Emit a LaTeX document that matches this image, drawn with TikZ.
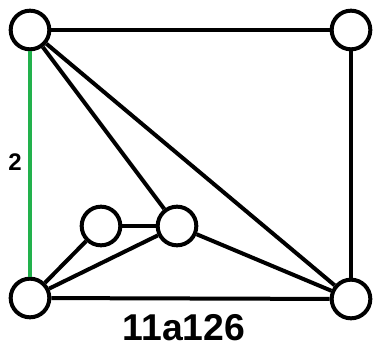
\documentclass[tikz,border=0pt]{standalone}
\usepackage{fontspec}
\setmainfont{Liberation Sans}
\usepackage{xcolor}
\usepackage{tikz}
\usetikzlibrary{positioning}
\definecolor{edgegreen}{HTML}{22B14C}
\tikzset{
  vertex/.style={circle,draw=black,fill=white,line width=3pt,minimum size=29pt,inner sep=0pt},
  edge/.style={line width=3pt,draw=black},
  coloredge/.style={line width=2.4pt,draw=edgegreen},
  weight/.style={font=\bfseries\fontsize{18}{18}\selectfont,inner sep=0pt},
  title/.style={font=\bfseries\fontsize{28}{28}\selectfont}
}
\begin{document}
\begin{tikzpicture}[x=0.75pt,y=-0.75pt]
  \useasboundingbox (0,0) rectangle (375,353);
  \node[vertex] (tl) at (30,30) {};
  \node[vertex] (tr) at (351,30) {};
  \node[vertex] (bl) at (30,298) {};
  \node[vertex] (br) at (351,299) {};
  \node[vertex] (ma) at (101,226) {};
  \node[vertex] (mb) at (177,226) {};
  \draw[coloredge] (tl) -- node[weight,pos=0.49,left=5pt]{2} (bl);
  \draw[edge] (tl) -- (tr);
  \draw[edge] (tr) -- (br);
  \draw[edge] (bl) -- (br);
  \draw[edge] (tl) -- (br);
  \draw[edge] (tl) -- (mb);
  \draw[edge] (ma) -- (mb);
  \draw[edge] (bl) -- (ma);
  \draw[edge] (bl) -- (mb);
  \draw[edge] (mb) -- (br);
  \node[title] (name) at (184,328) {11a126};
\end{tikzpicture}
\end{document}
